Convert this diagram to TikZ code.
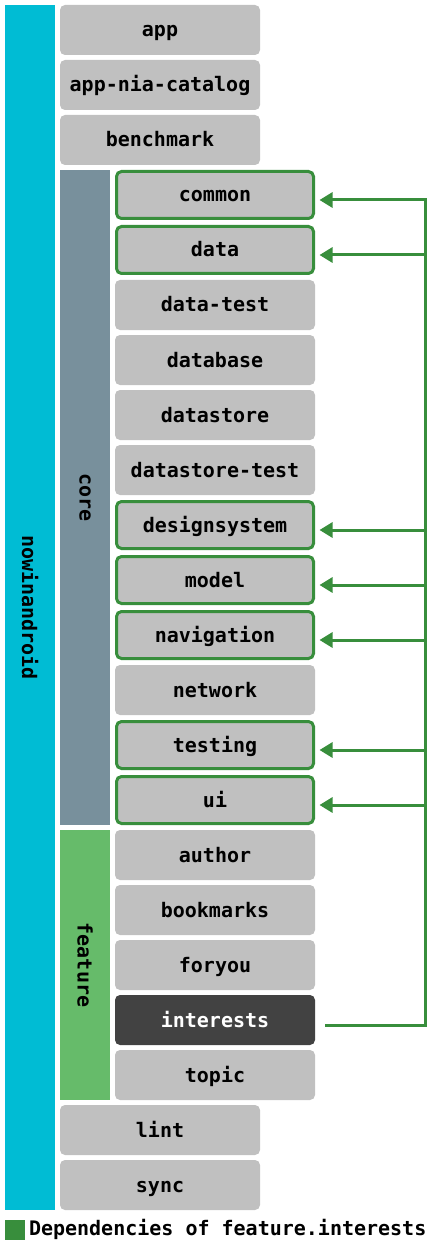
\documentclass[tikz,border=0pt]{standalone}
\usepackage{fontspec}
\setmonofont{DejaVu Sans Mono}
\usetikzlibrary{arrows.meta}
\definecolor{nia}{HTML}{00BCD4}
\definecolor{corec}{HTML}{78909C}
\definecolor{featc}{HTML}{66BB6A}
\definecolor{boxc}{HTML}{C0C0C0}
\definecolor{depc}{HTML}{388E3C}
\definecolor{darkc}{HTML}{424242}
\tikzset{
  mod/.style={fill=boxc, rounded corners=5pt, minimum width=200pt, minimum height=50pt, inner sep=0pt, outer sep=0pt, text height=14pt, text depth=0pt, font=\ttfamily\bfseries\fontsize{20}{22}\selectfont, text=black},
  depmod/.style={mod, draw=depc, line width=3pt, minimum width=197pt, minimum height=47pt},
  selmod/.style={mod, fill=darkc, text=white},
  bar/.style={inner sep=0pt, outer sep=0pt, font=\ttfamily\bfseries\fontsize{20}{22}\selectfont, text=black},
  depline/.style={draw=depc, line width=3pt},
  deparrow/.style={depline, -{Triangle[length=13pt,width=15pt]}},
}
\begin{document}
\begin{tikzpicture}[x=1pt,y=-1pt]
\useasboundingbox (0,0) rectangle (430,1246);
% bars
\fill[nia] (5,5) rectangle (55,1210);
\node[bar, rotate=-90] (nowinandroid) at (30,607.5) {nowinandroid};
\fill[corec] (60,170) rectangle (110,825);
\node[bar, rotate=-90] (core) at (85,497.5) {core};
\fill[featc] (60,830) rectangle (110,1100);
\node[bar, rotate=-90] (feature) at (85,965) {feature};
% top level
\node[mod] (app) at (160,30) {app};
\node[mod] (catalog) at (160,85) {app-nia-catalog};
\node[mod] (benchmark) at (160,140) {benchmark};
% core
\node[depmod] (common) at (215,195) {common};
\node[depmod] (data) at (215,250) {data};
\node[mod] (datatest) at (215,305) {data-test};
\node[mod] (database) at (215,360) {database};
\node[mod] (datastore) at (215,415) {datastore};
\node[mod] (datastoretest) at (215,470) {datastore-test};
\node[depmod] (designsystem) at (215,525) {designsystem};
\node[depmod] (model) at (215,580) {model};
\node[depmod] (navigation) at (215,635) {navigation};
\node[mod] (network) at (215,690) {network};
\node[depmod] (testing) at (215,745) {testing};
\node[depmod] (ui) at (215,800) {ui};
% feature
\node[mod] (author) at (215,855) {author};
\node[mod] (bookmarks) at (215,910) {bookmarks};
\node[mod] (foryou) at (215,965) {foryou};
\node[selmod] (interests) at (215,1020) {interests};
\node[mod] (topic) at (215,1075) {topic};
% bottom
\node[mod] (lint) at (160,1130) {lint};
\node[mod] (sync) at (160,1185) {sync};
% dependency lines
\coordinate (spinebot) at (425,1025);
\coordinate (spinetop) at (425,200);
\draw[depline] ([xshift=10pt]interests.east |- spinebot) -- (spinebot) -- ([yshift=1.5pt]spinetop);
\foreach \t in {common,data,designsystem,model,navigation,testing,ui}{
  \draw[deparrow] ([yshift=-5pt]\t.east -| spinebot) -- ([xshift=6pt,yshift=-5pt]\t.east);
}
% legend
\fill[depc] (5,1220) rectangle (25,1240) coordinate (legbox);
\node[bar, anchor=base west] (legend) at (29,1235) {Dependencies of feature.interests};
\end{tikzpicture}
\end{document}
